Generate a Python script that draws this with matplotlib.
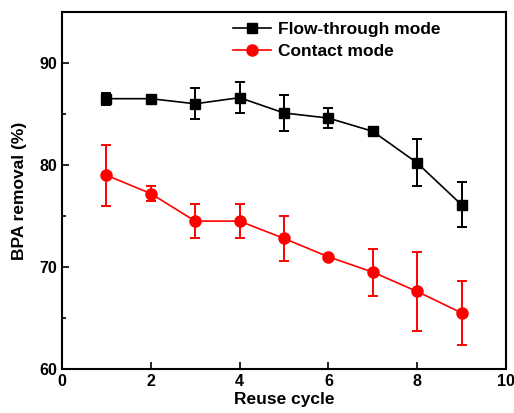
import matplotlib
matplotlib.use("Agg")
import matplotlib.pyplot as plt
from matplotlib.ticker import MultipleLocator
from matplotlib.lines import Line2D

plt.rcParams['font.family'] = ['Liberation Sans', 'DejaVu Sans']
plt.rcParams['font.weight'] = 'bold'

cycles = [1, 2, 3, 4, 5, 6, 7, 8, 9]
flow = [86.5, 86.5, 86.0, 86.6, 85.1, 84.6, 83.3, 80.2, 76.1]
flow_err = [0.6, 0.4, 1.5, 1.5, 1.8, 0.95, 0.2, 2.3, 2.2]
contact = [79.0, 77.2, 74.5, 74.5, 72.8, 71.0, 69.5, 67.6, 65.5]
contact_err = [3.0, 0.7, 1.7, 1.7, 2.2, 0.2, 2.3, 3.9, 3.1]

fig = plt.figure(figsize=(5.14, 4.13), dpi=100)
ax = fig.add_axes([0.1206, 0.1065, 0.8638, 0.8645])

ax.errorbar(cycles, flow, yerr=flow_err, color='black', marker='s', markersize=7,
            linewidth=1.2, elinewidth=1.4, capsize=3.5, capthick=1.4)
ax.errorbar(cycles, contact, yerr=contact_err, color='#ff0000', marker='o', markersize=8,
            linewidth=1.2, elinewidth=1.4, capsize=3.5, capthick=1.4)

ax.set_xlim(0, 10)
ax.set_ylim(60, 95)
ax.set_xticks([0, 2, 4, 6, 8, 10])
ax.set_yticks([60, 70, 80, 90])
ax.yaxis.set_minor_locator(MultipleLocator(5))
ax.tick_params(axis='both', which='major', direction='in', length=5, width=1.2, labelsize=11.5)
ax.tick_params(axis='both', which='minor', direction='in', length=3, width=1.2)
ax.tick_params(axis='x', which='minor', bottom=False)
for lbl in ax.get_xticklabels() + ax.get_yticklabels():
    lbl.set_fontweight('bold')
for s in ax.spines.values():
    s.set_linewidth(1.5)

ax.set_xlabel('Reuse cycle', fontsize=12.5, fontweight='bold', labelpad=2)
ax.set_ylabel('BPA removal (%)', fontsize=12.5, fontweight='bold', labelpad=9)

handles = [Line2D([], [], color='black', marker='s', markersize=7, linewidth=1.2),
           Line2D([], [], color='#ff0000', marker='o', markersize=8, linewidth=1.2)]
labels = ['Flow-through mode', 'Contact mode']
leg = ax.legend(handles, labels, loc='upper left', bbox_to_anchor=(0.35, 1.015), frameon=False,
                fontsize=12.5, handlelength=2.2, handletextpad=0.4, labelspacing=0.35)
for t in leg.get_texts():
    t.set_fontweight('bold')

fig.savefig('out.png', dpi=100)
